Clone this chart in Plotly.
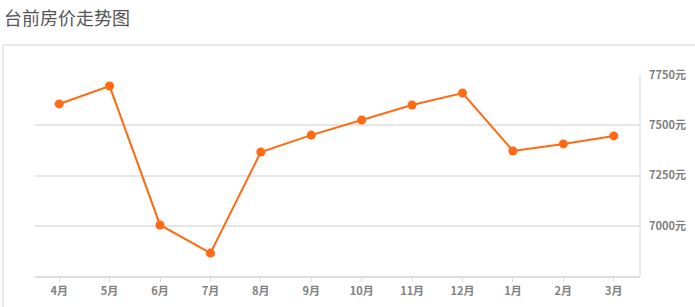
import plotly.graph_objects as go

months = ["4月", "5月", "6月", "7月", "8月", "9月", "10月", "11月", "12月", "1月", "2月", "3月"]
prices = [7606, 7695, 7004, 6864, 7367, 7451, 7526, 7601, 7660, 7372, 7407, 7447]
y_ticks = [7000, 7250, 7500, 7750]
y_tick_labels = ["7000元", "7250元", "7500元", "7750元"]

W, H = 695, 307
L, R, T, B = 35, 55, 75, 31
pw, ph = W - L - R, H - T - B

def px_x(x):
    return (x - L) / pw

def px_y(y):
    return 1 - (y - T) / ph

fig = go.Figure()
fig.add_trace(go.Scatter(
    x=months, y=prices, mode="lines+markers",
    line=dict(color="#ff6a13", width=2),
    marker=dict(color="#ff6a13", size=9),
    hoverinfo="skip",
))

fig.add_shape(type="rect", xref="paper", yref="paper",
              x0=px_x(3), x1=px_x(705), y0=px_y(320), y1=px_y(45),
              line=dict(color="#e2e2e2", width=1.5), fillcolor="rgba(0,0,0,0)", layer="below")
# right border of plot area
fig.add_shape(type="line", xref="paper", yref="paper", x0=1, x1=1, y0=0, y1=1,
              line=dict(color="#e4e4e4", width=1.5))

fig.add_annotation(text="台前房价走势图", xref="paper", yref="paper",
                   x=px_x(2), y=px_y(17), xanchor="left", yanchor="middle", showarrow=False,
                   font=dict(size=18, color="#555555", family="Noto Sans CJK SC"))

tickfont = dict(size=11, color="#808080", family="Noto Sans CJK SC", weight="bold")

fig.update_layout(
    width=W, height=H, margin=dict(l=L, r=R, t=T, b=B),
    paper_bgcolor="white", plot_bgcolor="white", showlegend=False,
    font=dict(family="Noto Sans CJK SC", color="#888888", size=11),
    xaxis=dict(type="category", range=[-0.48, 11.52], showgrid=False, automargin=False,
               showline=True, linecolor="#dddddd", linewidth=1.5,
               ticks="outside", ticklen=4, tickcolor="#dddddd",
               tickfont=tickfont, fixedrange=True),
    yaxis=dict(range=[6750, 7750], side="right", tickvals=y_ticks, ticktext=y_tick_labels,
               showgrid=True, gridcolor="#e6e6e6", gridwidth=1.5, zeroline=False, automargin=False,
               showline=False, ticks="", ticklabelstandoff=8,
               tickfont=tickfont, fixedrange=True),
)

fig.write_html("out.html")
